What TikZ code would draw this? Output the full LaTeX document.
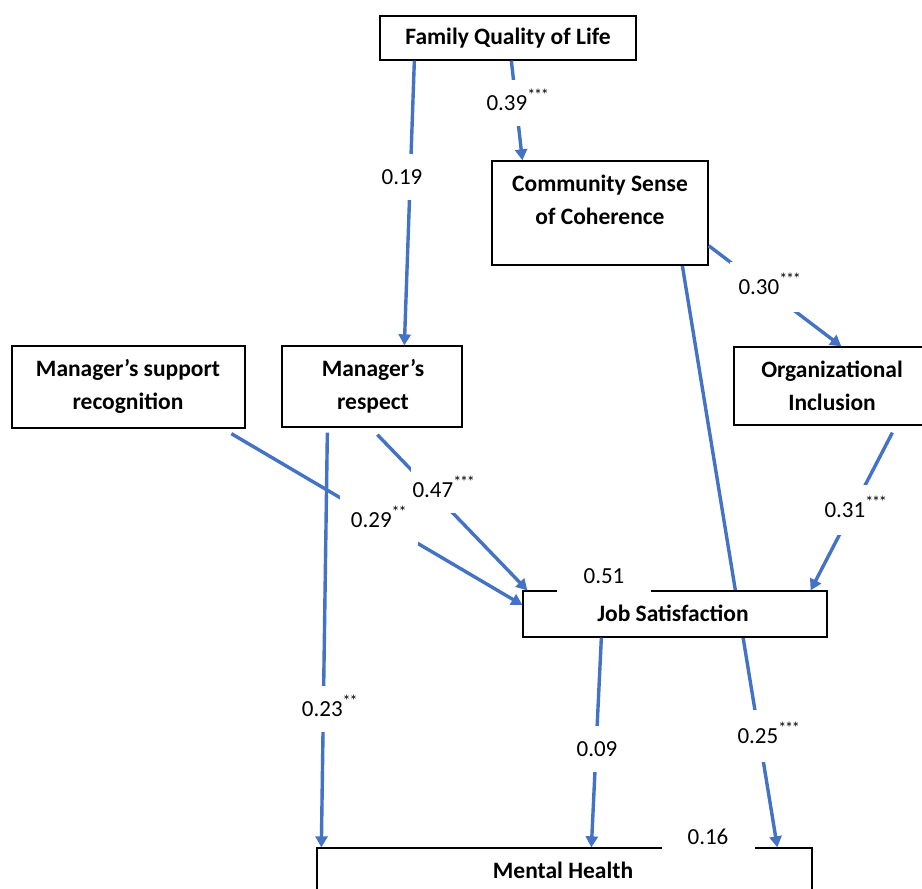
\documentclass[tikz,border=0pt]{standalone}
\usepackage{fontspec}
\setmainfont{Carlito}
\usetikzlibrary{arrows.meta,fit,backgrounds}
\definecolor{arrowblue}{RGB}{68,114,196}
\newcommand{\sigthree}{\textsuperscript{*\kern-1.2pt*\kern-1.2pt*}}
\newcommand{\sigtwo}{\textsuperscript{*\kern-1.2pt*}}
\begin{document}
\begin{tikzpicture}[x=1pt,y=-1pt,
  box/.style={draw=black, line width=1.3pt, fill=white, inner sep=0pt},
  txt/.style={font=\fontsize{23.5}{33}\selectfont\bfseries, align=center, inner sep=0pt},
  conn/.style={draw=arrowblue, line width=3.4pt, -{Triangle[length=11pt,width=12pt]}},
  lbl/.style={fill=white, inner sep=0pt, font=\fontsize{23}{27}\selectfont, text height=14pt, text depth=0pt, minimum height=46pt},
]
\useasboundingbox (0,0) rectangle (922,889);
\clip (0,0) rectangle (922,889);

% boxes
\node[box, fit={(380,16) (636,60)}] (fq) {};
\node[box, fit={(492,161) (708,265)}] (csc) {};
\node[box, fit={(734,347) (935,425)}] (oi) {};
\node[box, fit={(12,346) (245,428)}] (msr) {};
\node[box, fit={(282,346) (462,427)}] (mr) {};
\node[box, fit={(523,591) (827,637)}] (js) {};
\node[box, fit={(317,848) (812,920)}] (mh) {};

% white page and the long line behind the Job Satisfaction box
\begin{scope}[on background layer]
\fill[white] (0,0) rectangle (922,889);
\draw[conn] ([xshift=191pt]csc.south west) -- ([xshift=461pt]mh.north west);
\end{scope}

% box texts
\node[txt] (fqt) at (508,38) {Family Quality of Life};
\node[txt] (csct) at (600,200) {Community Sense\\of Coherence};
\node[txt] (oit) at (832,386) {Organizational\\Inclusion};
\node[txt] (msrt) at (128,386) {Manager’s support\\recognition};
\node[txt] (mrt) at (373,386) {Manager’s\\respect};
\node[txt] (jst) at (673,613) {Job Satisfaction};
\node[txt] (mht) at (563,870) {Mental Health};

% connectors
\draw[conn] ([xshift=35pt]fq.south west) -- ([xshift=123pt]mr.north west);
\draw[conn] ([xshift=132pt]fq.south west) -- ([xshift=31pt]csc.north west);
\draw[conn] ([yshift=20pt]csc.south east) -- ([xshift=108pt]oi.north west);
\draw[conn] ([xshift=220pt,yshift=-5pt]msr.south west) -- ([yshift=9pt]js.west);
\draw[conn] ([xshift=96pt,yshift=-7pt]mr.south west) -- ([xshift=5pt]js.north west);
\draw[conn] ([xshift=46pt,yshift=-5pt]mr.south west) -- ([xshift=5pt]mh.north west);
\draw[conn] ([xshift=159pt,yshift=-7pt]oi.south west) -- ([xshift=-17pt]js.north east);
\draw[conn] ([xshift=79pt]js.south west) -- ([xshift=275pt]mh.north west);

% path labels
\node[lbl, minimum width=44pt] (l19) at (402,177) {0.19};
\node[lbl, minimum width=70pt] (l39) at (518,103) {0.39\sigthree};
\node[lbl, minimum width=80pt, minimum height=50pt] (l30) at (770,287) {0.30\sigthree};
\node[lbl, minimum width=70pt, minimum height=52pt] (l25) at (769,736) {0.25\sigthree};
\node[lbl, minimum width=78pt, minimum height=50pt] (l29) at (379,520) {0.29\sigtwo};
\node[lbl, minimum width=66pt] (l47) at (444,490) {0.47\sigthree};
\node[lbl, minimum width=66pt, minimum height=50pt] (l31) at (856,510) {0.31\sigthree};
\node[lbl, minimum width=60pt] (l23) at (330,709) {0.23\sigtwo};
\node[lbl, minimum width=44pt] (l09) at (597,749) {0.09};
\node[lbl, minimum width=94pt, minimum height=36pt] (l51) at (604,576) {0.51\hspace{16pt}};
\node[lbl, minimum width=93pt, minimum height=34pt] (l16) at (708,837) {0.16\hspace{17pt}};
\end{tikzpicture}
\end{document}
